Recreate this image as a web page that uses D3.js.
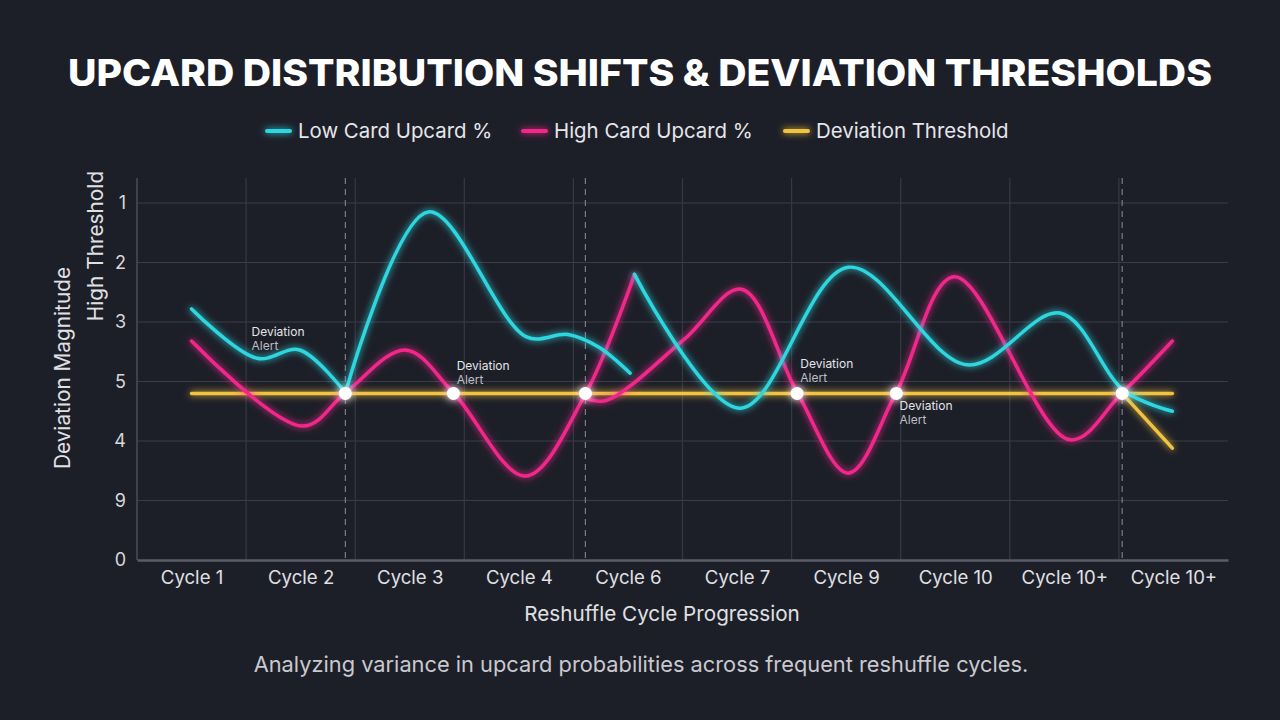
<!DOCTYPE html>
<html>
<head>
<meta charset="utf-8">
<script src="https://cdn.jsdelivr.net/npm/d3@7"></script>
<style>
  html, body { margin: 0; padding: 0; background: #1d1f28; }
  svg { display: block; font-family: Inter, "Noto Sans", sans-serif; }
</style>
</head>
<body>
<svg id="chart" width="1280" height="720"></svg>
<script>
// categories along the bottom
const cycles = ['Cycle 1', 'Cycle 2', 'Cycle 3', 'Cycle 4', 'Cycle 6', 'Cycle 7', 'Cycle 9', 'Cycle 10', 'Cycle 10+', 'Cycle 10+'];

// y ticks (as printed, bottom to top)
const yTickValues = [0, 1, 2, 3, 4, 5, 6];
const yTickLabels = ['0', '9', '4', '5', '3', '2', '1'];

// series: [cycle position, level]
const lowCardA1 = [[0, 4.22], [0.6, 3.39], [0.99, 3.53], [1.41, 2.81]];
const lowCardA2 = [[1.41, 2.81], [2.17, 5.85], [3.07, 3.75], [3.45, 3.79], [3.73, 3.58], [4.02, 3.14]];
const lowCardB = [[4.06, 4.80], [5.03, 2.55], [6.02, 4.92], [7.11, 3.28], [7.96, 4.15], [8.55, 2.84], [8.99, 2.50]];

const highCardA = [[0, 3.68], [1.02, 2.25], [1.41, 2.81], [1.96, 3.53], [2.4, 2.81], [3.06, 1.41], [3.61, 2.79], [4.06, 4.80]];
const highCardB = [[3.61, 2.72], [3.8, 2.68], [4.51, 3.70], [5.04, 4.55], [5.55, 2.82], [6.02, 1.46], [6.46, 2.82], [6.99, 4.76], [8.05, 2.02], [8.53, 2.81], [8.99, 3.68]];

const thresholdMain = [[0, 2.80], [8.99, 2.80]];
const thresholdDrop = [[8.53, 2.80], [8.99, 1.88]];

// alert crossings
const alertPoints = [1.41, 2.40, 3.61, 5.55, 6.46, 8.53];
const alertLevel = 2.80;
const dashedAlerts = [1.41, 3.61, 8.53];
const alertNotes = [[0.55, 3.77], [2.43, 3.20], [5.58, 3.23], [6.49, 2.52]];

const colors = { low: '#2ed6df', high: '#f2288b', thr: '#f2c33f' };

const svg = d3.select('#chart');
const margin = { left: 137, right: 52, top: 178, bottom: 160 };
const W = 1280, H = 720;

const x = d3.scaleLinear().domain([-0.5, 9.5]).range([margin.left, W - margin.right]);
const y = d3.scaleLinear().domain([0, 6.42]).range([H - margin.bottom, margin.top]);

// glow filters (user space so flat lines keep their glow)
const defs = svg.append('defs');
function glow(id, std) {
  const f = defs.append('filter').attr('id', id)
    .attr('filterUnits', 'userSpaceOnUse')
    .attr('x', 0).attr('y', 0).attr('width', W).attr('height', H);
  f.append('feGaussianBlur').attr('in', 'SourceGraphic').attr('stdDeviation', std).attr('result', 'b');
  const m = f.append('feMerge');
  m.append('feMergeNode').attr('in', 'b');
  m.append('feMergeNode').attr('in', 'SourceGraphic');
}
glow('glow', 3.5);
glow('dotGlow', 4);

// title
svg.append('text')
  .attr('x', W / 2).attr('y', 86)
  .attr('text-anchor', 'middle')
  .attr('fill', '#ffffff')
  .attr('font-size', 37).attr('font-weight', 800)
  .attr('textLength', 1144).attr('lengthAdjust', 'spacingAndGlyphs')
  .text('UPCARD DISTRIBUTION SHIFTS & DEVIATION THRESHOLDS');

// legend
const legendItems = [
  { label: 'Low Card Upcard %', color: colors.low, x: 267 },
  { label: 'High Card Upcard %', color: colors.high, x: 523 },
  { label: 'Deviation Threshold', color: colors.thr, x: 785 }
];
const lg = svg.append('g').selectAll('g').data(legendItems).enter().append('g');
lg.append('line')
  .attr('x1', (d) => d.x).attr('x2', (d) => d.x + 23)
  .attr('y1', 131).attr('y2', 131)
  .attr('stroke', (d) => d.color).attr('stroke-width', 4).attr('stroke-linecap', 'round')
  .attr('filter', 'url(#glow)');
lg.append('text')
  .attr('x', (d) => d.x + 31).attr('y', 138)
  .attr('fill', '#e6e6ea').attr('font-size', 20.4)
  .text((d) => d.label);

// grid
const grid = svg.append('g');
grid.selectAll('line.h').data(yTickValues.slice(1)).enter().append('line')
  .attr('x1', margin.left).attr('x2', W - margin.right)
  .attr('y1', (d) => y(d)).attr('y2', (d) => y(d))
  .attr('stroke', '#3a3d48').attr('stroke-width', 1.2);
grid.selectAll('line.v').data(d3.range(9).map((i) => i + 0.5)).enter().append('line')
  .attr('x1', (d) => x(d)).attr('x2', (d) => x(d))
  .attr('y1', margin.top).attr('y2', H - margin.bottom)
  .attr('stroke', '#363944').attr('stroke-width', 1.2);
grid.selectAll('line.d').data(dashedAlerts).enter().append('line')
  .attr('x1', (d) => x(d)).attr('x2', (d) => x(d))
  .attr('y1', margin.top).attr('y2', H - margin.bottom)
  .attr('stroke', '#7a7d88').attr('stroke-width', 1.2).attr('stroke-dasharray', '6,5');

// axes
const yAxis = svg.append('g')
  .attr('transform', `translate(${margin.left},0)`)
  .call(d3.axisLeft(y).tickValues(yTickValues).tickFormat((d, i) => yTickLabels[i]).tickSize(0).tickPadding(11));
yAxis.select('.domain').attr('stroke', '#4a4d58').attr('stroke-width', 1.5)
  .attr('d', `M0,${margin.top}V${H - margin.bottom}`);
yAxis.selectAll('text').attr('fill', '#d8d8dc').attr('font-size', 18).attr('font-family', 'Inter, sans-serif');

const xAxis = svg.append('g')
  .attr('transform', `translate(0,${H - margin.bottom})`)
  .call(d3.axisBottom(x).tickValues(d3.range(cycles.length)).tickFormat((d) => cycles[d]).tickSize(0).tickPadding(11));
xAxis.select('.domain').attr('stroke', '#5a5d68').attr('stroke-width', 2.5);
xAxis.selectAll('text').attr('fill', '#e0e0e4').attr('font-size', 18.6).attr('font-family', 'Inter, sans-serif');

// axis titles
svg.append('text')
  .attr('transform', 'translate(70,368) rotate(-90)')
  .attr('text-anchor', 'middle').attr('fill', '#e0e0e4').attr('font-size', 20.8)
  .text('Deviation Magnitude');
svg.append('text')
  .attr('transform', 'translate(103,246) rotate(-90)')
  .attr('text-anchor', 'middle').attr('fill', '#e0e0e4').attr('font-size', 20.8)
  .text('High Threshold');
svg.append('text')
  .attr('x', 662).attr('y', 621)
  .attr('text-anchor', 'middle').attr('fill', '#e0e0e4').attr('font-size', 20.7)
  .text('Reshuffle Cycle Progression');
svg.append('text')
  .attr('x', 641).attr('y', 672)
  .attr('text-anchor', 'middle').attr('fill', '#c9c9cf').attr('font-size', 21.8)
  .text('Analyzing variance in upcard probabilities across frequent reshuffle cycles.');

// lines
const line = d3.line()
  .x((d) => x(d[0]))
  .y((d) => y(d[1]))
  .curve(d3.curveCatmullRom.alpha(0.5));

const seriesList = [
  { data: thresholdMain, color: colors.thr },
  { data: thresholdDrop, color: colors.thr },
  { data: highCardA, color: colors.high },
  { data: highCardB, color: colors.high },
  { data: lowCardA1, color: colors.low },
  { data: lowCardA2, color: colors.low },
  { data: lowCardB, color: colors.low }
];
svg.append('g').selectAll('path').data(seriesList).enter().append('path')
  .attr('d', (s) => line(s.data))
  .attr('fill', 'none')
  .attr('stroke', (s) => s.color)
  .attr('stroke-width', 3.5)
  .attr('stroke-linecap', 'round')
  .attr('filter', 'url(#glow)');

// alert dots
svg.append('g').selectAll('circle').data(alertPoints).enter().append('circle')
  .attr('cx', (d) => x(d)).attr('cy', y(alertLevel))
  .attr('r', 6.5)
  .attr('fill', '#ffffff')
  .attr('filter', 'url(#dotGlow)');

// alert notes
const notes = svg.append('g').selectAll('text').data(alertNotes).enter().append('text')
  .attr('x', (d) => x(d[0])).attr('y', (d) => y(d[1]))
  .attr('fill', '#e4e4e8').attr('font-size', 12);
notes.append('tspan').attr('x', (d) => x(d[0])).text('Deviation');
notes.append('tspan').attr('x', (d) => x(d[0])).attr('dy', 14).attr('fill', '#bdbdc4').text('Alert');
</script>
</body>
</html>
